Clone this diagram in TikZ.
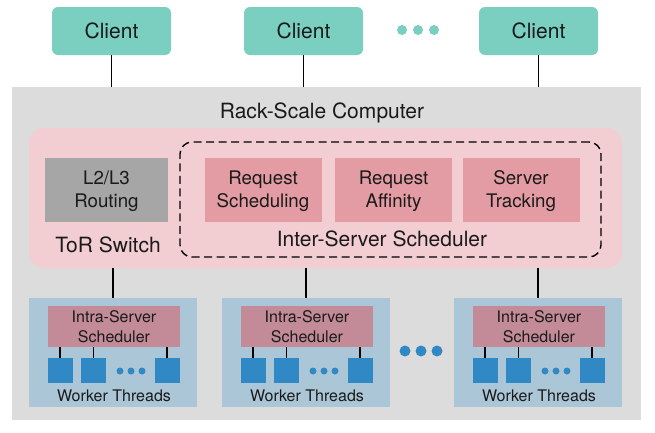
\documentclass[tikz,border=0pt]{standalone}
\usepackage{fontspec}
\setmainfont{TeX Gyre Heros}
\definecolor{clientc}{HTML}{7ACFC0}
\definecolor{grayc}{HTML}{DCDCDC}
\definecolor{pinkc}{HTML}{F2CDD2}
\definecolor{routc}{HTML}{A6A6A6}
\definecolor{reqc}{HTML}{E39CA3}
\definecolor{serverc}{HTML}{ABC6D6}
\definecolor{intrac}{HTML}{C28B97}
\definecolor{workc}{HTML}{3089C4}
\definecolor{txt}{HTML}{1A1A1A}
\begin{document}
\begin{tikzpicture}[x=1pt,y=-1pt,
  client/.style={fill=clientc, rounded corners=6pt, minimum width=119pt, minimum height=48pt, inner sep=0pt, text=txt, font=\fontsize{21}{25}\selectfont},
  plainbox/.style={inner sep=0pt, outer sep=0pt},
  inbox/.style={inner sep=0pt, minimum width=117pt, minimum height=64pt, text=txt, align=center, text depth=0pt, font=\fontsize{18.7}{23}\selectfont},
  server/.style={fill=serverc, inner sep=0pt, minimum width=168pt, minimum height=109pt},
  intra/.style={fill=intrac, inner sep=0pt, minimum width=132pt, minimum height=41pt, text=txt, align=center, text depth=0pt, font=\fontsize{16}{19.5}\selectfont},
  worker/.style={fill=workc, inner sep=0pt, minimum width=25pt, minimum height=25pt},
  bigtext/.style={text=txt, font=\fontsize{21}{25}\selectfont, inner sep=0pt, text depth=0pt},
  smalltext/.style={text=txt, font=\fontsize{16}{19}\selectfont, inner sep=0pt},
  dotc/.style={circle, inner sep=0pt, minimum size=#1},
  link/.style={line width=1.2pt, draw=black}
]
\useasboundingbox (0,0) rectangle (655,432);

% clients
\node[client] (c1) at (111.5,31) {Client};
\node[client] (c2) at (303.5,31) {Client};
\node[client] (c3) at (538.5,31) {Client};
\node[dotc=10pt, fill=clientc] (td1) at (402,30) {};
\node[dotc=10pt, fill=clientc] (td2) at (418,30) {};
\node[dotc=10pt, fill=clientc] (td3) at (434,30) {};

% rack
\node[plainbox, fill=grayc, minimum width=629pt, minimum height=333pt] (rack) at (326.75,253.5) {};
\node[bigtext] (racklbl) at (322,111) {Rack-Scale Computer};

\draw[link] (c1.south) -- (c1.south |- rack.north);
\draw[link] (c2.south) -- (c2.south |- rack.north);
\draw[link] (c3.south) -- (c3.south |- rack.north);

% ToR switch
\node[plainbox, fill=pinkc, rounded corners=15pt, minimum width=593pt, minimum height=140pt] (tor) at (325.5,198) {};
\node[plainbox, draw=black, line width=1.4pt, dash pattern=on 8pt off 4.5pt, rounded corners=12pt, minimum width=421pt, minimum height=115pt] (inter) at (390.5,199.5) {};
\node[inbox, fill=routc, minimum width=123pt] (l2) at (106.5,189.5) {L2/L3\\Routing};
\node[inbox, fill=reqc] (rs) at (263,189.5) {Request\\Scheduling};
\node[inbox, fill=reqc] (ra) at (393.5,189.5) {Request\\Affinity};
\node[inbox, fill=reqc] (st) at (521,189.5) {Server\\Tracking};
\node[bigtext] (torlbl) at (108,245) {ToR Switch};
\node[bigtext] (interlbl) at (382,238.5) {Inter-Server Scheduler};

% servers
\foreach \n/\cx in {1/113, 2/306, 3/538} {
  \node[server] (s\n) at (\cx,352.5) {};
  \node[intra] (i\n) at (\cx+1,326.5) {Intra-Server\\Scheduler};
  \node[worker] (w\n a) at (\cx-53,370.5) {};
  \node[worker] (w\n b) at (\cx-19.5,370.5) {};
  \node[worker] (w\n c) at (\cx+54,370.5) {};
  \node[dotc=7pt, fill=workc] (d\n a) at (\cx+7,371) {};
  \node[dotc=7pt, fill=workc] (d\n b) at (\cx+18,371) {};
  \node[dotc=7pt, fill=workc] (d\n c) at (\cx+29,371) {};
  \node[smalltext] (wt\n) at (\cx+1,396) {Worker Threads};
  \draw[link] (w\n a.north) -- (w\n a.north |- i\n.south);
  \draw[link] (w\n b.north) -- (w\n b.north |- i\n.south);
  \draw[link] (w\n c.north) -- (w\n c.north |- i\n.south);
}
\node[dotc=11pt, fill=workc] (md1) at (405,351) {};
\node[dotc=11pt, fill=workc] (md2) at (421,351) {};
\node[dotc=11pt, fill=workc] (md3) at (437,351) {};

\draw[link] (s1.north) -- (s1.north |- tor.south);
\draw[link] (s2.north) -- (s2.north |- tor.south);
\draw[link] (s3.north) -- (s3.north |- tor.south);
\end{tikzpicture}
\end{document}
